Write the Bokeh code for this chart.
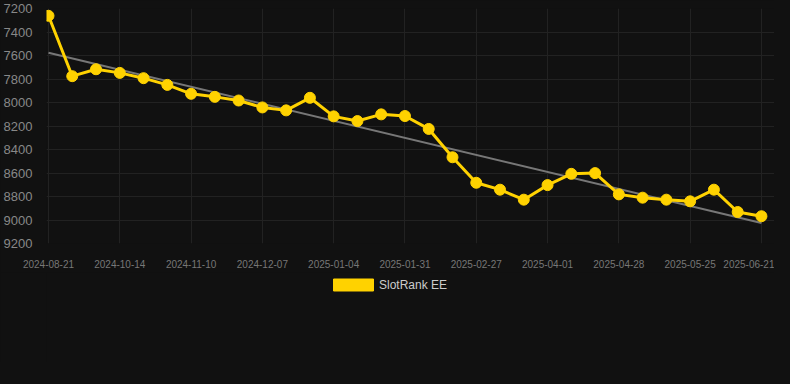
import numpy as np
from bokeh.plotting import figure
from bokeh.layouts import column
from bokeh.models import ColumnDataSource, Range1d, FixedTicker, Legend, LegendItem
from bokeh.embed import file_html
from bokeh.resources import INLINE

dates = ["2024-08-21", "2024-09-08", "2024-09-26", "2024-10-14", "2024-10-23",
         "2024-11-01", "2024-11-10", "2024-11-19", "2024-11-28", "2024-12-07",
         "2024-12-16", "2024-12-25", "2025-01-04", "2025-01-13", "2025-01-22",
         "2025-01-31", "2025-02-09", "2025-02-18", "2025-02-27", "2025-03-09",
         "2025-03-20", "2025-04-01", "2025-04-10", "2025-04-19", "2025-04-28",
         "2025-05-07", "2025-05-16", "2025-05-25", "2025-06-03", "2025-06-12",
         "2025-06-21"]
rank = [7262, 7776, 7717, 7748, 7793, 7850, 7926, 7952, 7983, 8042,
        8067, 7960, 8118, 8158, 8101, 8115, 8225, 8466, 8683, 8742,
        8827, 8703, 8607, 8601, 8782, 8810, 8827, 8841, 8742, 8932,
        8968]
y_ticks = [7200, 7400, 7600, 7800, 8000, 8200, 8400, 8600, 8800, 9000, 9200]
series_name = "SlotRank EE"

BG = "#111111"
GOLD = "#FFD200"
FONT = "Liberation Sans"

idx = np.arange(len(dates))
slope, intercept = np.polyfit(idx, np.array(rank, dtype=float), 1)
trend = slope * idx + intercept

src = ColumnDataSource(dict(x=idx, y=rank))
tsrc = ColumnDataSource(dict(x=[idx[0], idx[-1]], y=[trend[0], trend[-1]]))

p = figure(width=774, height=272, output_backend="svg", toolbar_location=None,
           x_range=Range1d(-0.084, 30.55), y_range=Range1d(9200, 7200),
           min_border_left=45, min_border_right=0, min_border_top=8,
           min_border_bottom=29)
p.background_fill_color = BG
p.border_fill_color = BG
p.outline_line_color = None

p.line("x", "y", source=tsrc, line_color="#777777", line_width=2)
p.line("x", "y", source=src, line_color=GOLD, line_width=3)
p.scatter("x", "y", source=src, size=11, fill_color=GOLD, line_color=GOLD)

tick_idx = list(range(0, len(dates), 3))
p.xaxis.ticker = FixedTicker(ticks=tick_idx)
p.xaxis.major_label_overrides = {i: dates[i] for i in tick_idx}
p.yaxis.ticker = FixedTicker(ticks=y_ticks)

for ax in (p.xaxis, p.yaxis):
    ax.axis_line_color = None
    ax.major_tick_line_color = None
    ax.minor_tick_line_color = None
    ax.major_label_text_font = FONT

p.xaxis.major_label_text_font_size = "10px"
p.xaxis.major_label_text_color = "#777777"
p.xaxis.major_label_standoff = 10
p.yaxis.major_label_text_font_size = "13px"
p.yaxis.major_label_text_color = "#888888"
p.yaxis.major_label_standoff = 8

p.xgrid.grid_line_color = "#222222"
p.ygrid.grid_line_color = "#222222"

# legend strip below the chart
lg = figure(width=774, height=90, output_backend="svg", toolbar_location=None,
            x_range=Range1d(0, 1), y_range=Range1d(0, 1),
            min_border_left=0, min_border_right=0, min_border_top=0,
            min_border_bottom=0)
lg.background_fill_color = BG
lg.border_fill_color = BG
lg.outline_line_color = None
lg.axis.visible = False
lg.grid.visible = False
# swatch glyph sits outside the visible range; only its legend entry shows
swatch = lg.quad(left=[5], right=[6], top=[5], bottom=[4], fill_color=GOLD, line_color=GOLD)

legend = Legend(items=[LegendItem(label=series_name, renderers=[swatch])],
                location=(282, 70), orientation="horizontal",
                background_fill_color=BG, background_fill_alpha=0,
                border_line_color=None,
                label_text_color="#cccccc", label_text_font=FONT,
                label_text_font_size="12px", glyph_width=50, glyph_height=15,
                margin=0, padding=0, label_standoff=1, label_height=12)
lg.add_layout(legend, "center")

layout = column(p, lg, spacing=0, styles={"background-color": BG})

html = file_html(layout, INLINE)
html = html.replace("<head>", "<head><style>html,body{background:#111111;}</style>", 1)
open("out.html", "w").write(html)
